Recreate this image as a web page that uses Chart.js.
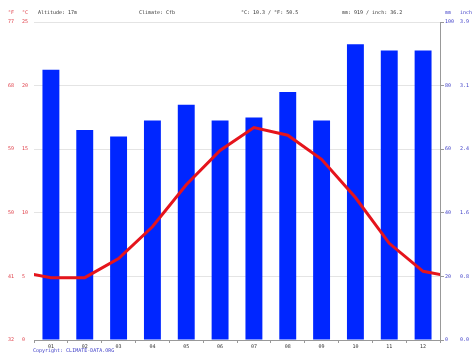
<!DOCTYPE html>
<html>
<head>
<meta charset="utf-8">
<style>
  html, body { margin: 0; padding: 0; background: #ffffff; }
  canvas { display: block; }
</style>
<script src="https://cdn.jsdelivr.net/npm/chart.js@4/dist/chart.umd.min.js"></script>
</head>
<body>
<canvas id="c" width="474" height="355"></canvas>
<script>
const months = ["01","02","03","04","05","06","07","08","09","10","11","12"];
const precipitationMm = [85, 66, 64, 69, 74, 69, 70, 78, 69, 93, 91, 91];
const temperatureC = [4.9, 4.9, 6.4, 8.9, 12.2, 14.9, 16.7, 16.1, 14.2, 11.2, 7.6, 5.4];
const headerTexts = ["Altitude: 17m", "Climate: Cfb", "°C: 10.3 / °F: 50.5", "mm: 919 / inch: 36.2"];
const copyrightText = "Copyright: CLIMATE-DATA.ORG";

const FONT = "'DejaVu Sans Mono', 'Liberation Mono', monospace";
const RED = "#e0404a";
const BLUE = "#4040c8";

// cyclic continuation so the line reaches both edges of the plot
const linePoints = [{x: 0, y: temperatureC[11]}]
  .concat(temperatureC.map((v, i) => ({x: i + 1, y: v})))
  .concat([{x: 13, y: temperatureC[0]}]);

const headerPlugin = {
  id: 'header',
  afterDraw(chart) {
    const ctx = chart.ctx;
    ctx.save();
    ctx.font = "5px " + FONT;
    ctx.textBaseline = "middle";
    ctx.textAlign = "left";
    ctx.fillStyle = RED;
    ctx.fillText("°F", 8, 13);
    ctx.fillText("°C", 22, 13);
    ctx.fillStyle = "#333333";
    ctx.fillText(headerTexts[0], 38, 13);
    ctx.fillText(headerTexts[1], 139, 13);
    ctx.fillText(headerTexts[2], 241, 13);
    ctx.fillText(headerTexts[3], 342, 13);
    ctx.fillStyle = BLUE;
    ctx.fillText("mm", 445, 13);
    ctx.fillText("inch", 460, 13);
    ctx.fillText(copyrightText, 33, 351);
    ctx.restore();
  }
};

new Chart(document.getElementById('c'), {
  data: {
    labels: months,
    datasets: [
      {
        type: 'line',
        data: linePoints,
        xAxisID: 'x2',
        yAxisID: 'yC',
        borderColor: '#e5141c',
        borderWidth: 3,
        pointRadius: 0,
        tension: 0,
        clip: 0,
        order: 0
      },
      {
        type: 'bar',
        data: precipitationMm,
        xAxisID: 'x',
        yAxisID: 'mm',
        backgroundColor: '#0026ff',
        barPercentage: 0.5,
        categoryPercentage: 1.0,
        grouped: false,
        order: 1
      }
    ]
  },
  options: {
    responsive: false,
    animation: false,
    events: [],
    layout: { padding: { left: 8, right: 0, top: 22, bottom: 3 } },
    plugins: { legend: { display: false }, tooltip: { enabled: false } },
    scales: {
      x: {
        type: 'category',
        position: 'bottom',
        offset: true,
        grid: { display: true, drawOnChartArea: false, drawTicks: true, tickLength: 3, color: '#999999' },
        border: { display: true, color: '#999999' },
        ticks: { color: '#333333', font: { family: FONT, size: 5 }, padding: 0.5, maxRotation: 0, autoSkip: false },
        afterFit(s) { s.height = 12; }
      },
      x2: {
        type: 'linear',
        display: false,
        min: 0.5,
        max: 12.5
      },
      yF: {
        type: 'linear',
        position: 'left',
        weight: 1,
        min: 32, max: 77,
        grid: { display: false, drawTicks: false },
        border: { display: false },
        ticks: { stepSize: 9, color: RED, crossAlign: 'far', font: { family: FONT, size: 5 } },
        afterFit(s) { s.width = 14; }
      },
      yC: {
        type: 'linear',
        position: 'left',
        weight: 0,
        min: 0, max: 25,
        grid: { color: '#e4e4e4', drawTicks: false },
        border: { display: false },
        ticks: { stepSize: 5, color: RED, crossAlign: 'far', font: { family: FONT, size: 5 } },
        afterFit(s) { s.width = 12; }
      },
      mm: {
        type: 'linear',
        position: 'right',
        weight: 0,
        min: 0, max: 100,
        grid: { drawOnChartArea: false, tickLength: 4, color: '#999999' },
        border: { display: true, color: '#999999' },
        ticks: { stepSize: 20, color: BLUE, crossAlign: 'near', padding: 1, font: { family: FONT, size: 5 } },
        afterFit(s) { s.width = 15; }
      },
      inch: {
        type: 'linear',
        position: 'right',
        weight: 1,
        min: 0, max: 100,
        grid: { display: false, drawTicks: false },
        border: { display: false },
        ticks: {
          stepSize: 20, color: BLUE, crossAlign: 'near', padding: 5,
          font: { family: FONT, size: 5 },
          callback: v => (v / 25.4).toFixed(1)
        },
        afterFit(s) { s.width = 19; }
      }
    }
  },
  plugins: [headerPlugin]
});
</script>
</body>
</html>
